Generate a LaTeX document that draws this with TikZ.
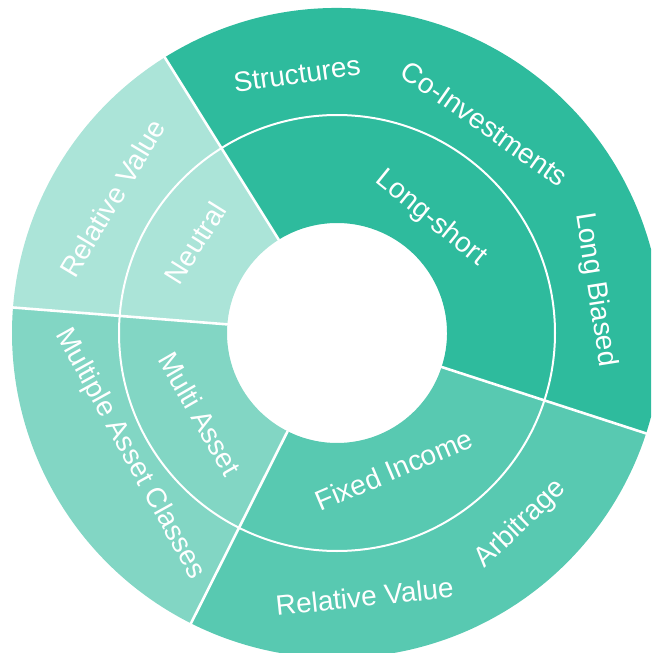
\documentclass[tikz,border=0pt]{standalone}
\usepackage{fontspec}
\setmainfont{Liberation Sans}
\definecolor{longshort}{RGB}{46,187,157}
\colorlet{fixedincome}{longshort!80!white}
\colorlet{multiasset}{longshort!60!white}
\colorlet{neutral}{longshort!40!white}
\begin{document}
\begin{tikzpicture}[line cap=round, line join=round, font=\fontsize{28}{33}\selectfont, x=1pt, y=1pt]
	\tikzset{ringtext/.style={text=white, inner sep=0pt}}
	\useasboundingbox (-337,-320) rectangle (314,333);
	\clip (-337,-320) rectangle (314,333);
	\foreach \a/\b/\col in {-18/122/longshort, 122/175.5/neutral, 175.5/243.3/multiasset, 243.3/342/fixedincome}
		\fill[\col] (\a:110) arc[start angle=\a, end angle=\b, radius=110] -- (\b:325) arc[start angle=\b, end angle=\a, radius=325] -- cycle;
	\foreach \a in {-18,122,175.5,243.3}
		\draw[white, line width=2.6] (\a:110) -- (\a:325);
	\draw[white, line width=2] (0,0) circle[radius=218];
	\node[ringtext, rotate=-39] (longshort) at (50.7:148) {Long-short};
	\node[ringtext, rotate=58] (neutral) at (147.5:168) {Neutral};
	\node[ringtext, rotate=-60] (multiasset) at (210.5:159) {Multi Asset};
	\node[ringtext, rotate=23] (fixedincome) at (292.6:148) {Fixed Income};
	\node[ringtext, rotate=59] (relvaluetop) at (149:262) {Relative Value};
	\node[ringtext, rotate=-61] (multipleassets) at (210.3:240) {Multiple Asset Classes};
	\node[ringtext, rotate=8] (structures) at (98.8:262) {Structures};
	\node[ringtext, rotate=-35] (coinvest) at (54.8:256) {Co-Investments};
	\node[ringtext, rotate=-81] (longbiased) at (9.5:262) {Long Biased};
	\node[ringtext, rotate=44] (arbitrage) at (313.9:265) {Arbitrage};
	\node[ringtext, rotate=6] (relvaluebottom) at (276:265) {Relative Value};
\end{tikzpicture}
\end{document}
